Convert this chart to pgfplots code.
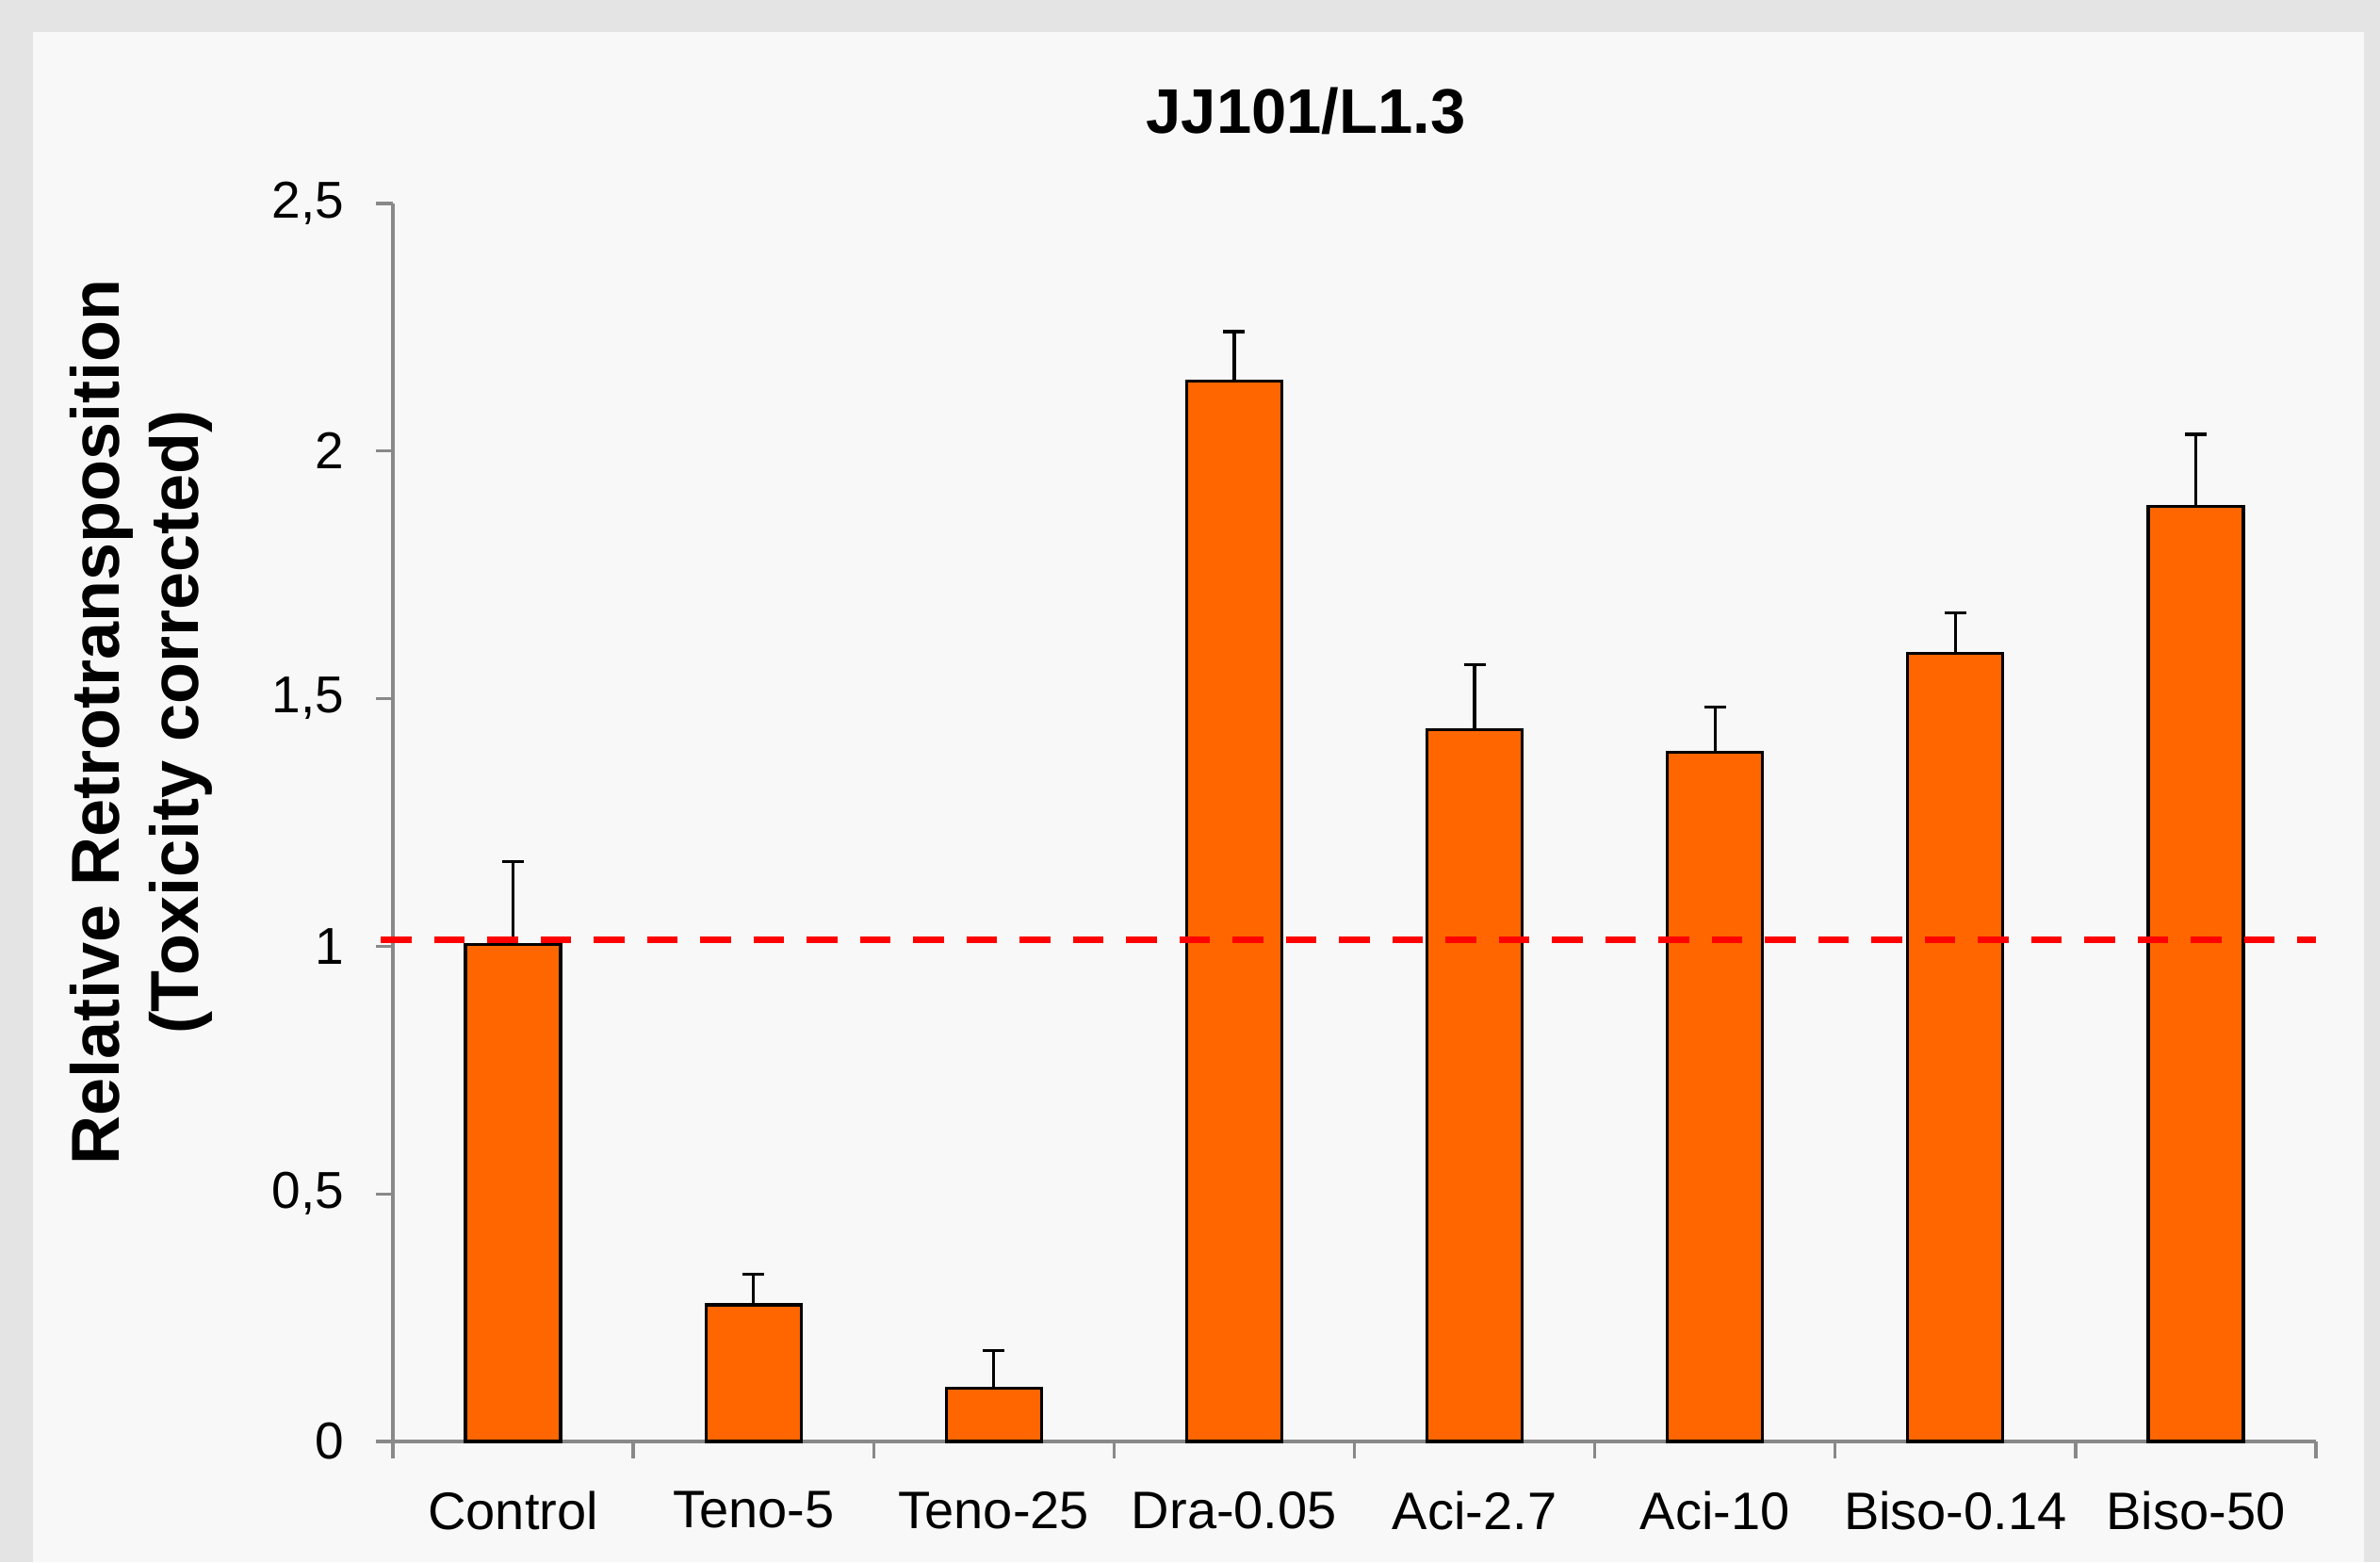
\documentclass[border=0pt]{standalone}
\usepackage{fontspec}
\setmainfont{Liberation Sans}
\usepackage{pgfplots}
\pgfplotsset{compat=1.18}
\definecolor{barorange}{RGB}{255,102,0}
\definecolor{axgray}{RGB}{137,137,137}
\definecolor{outerbg}{RGB}{228,228,228}
\definecolor{panelbg}{RGB}{248,248,248}
\begin{document}
\begin{tikzpicture}
\fill[outerbg] (-83.4pt,-25.6pt) rectangle (421.8pt,306pt);
\fill[panelbg] (-76.4pt,-25.6pt) rectangle (418.4pt,299.2pt);
\begin{axis}[
  at={(0pt,0pt)}, anchor=south west,
  scale only axis, width=408.2pt, height=262.8pt,
  xmin=-0.5, xmax=7.5, ymin=0, ymax=2.5,
  clip=false,
  axis x line=bottom, axis y line=left,
  axis line style={-, draw=axgray, line width=0.67pt},
  tick style={draw=axgray, line width=0.67pt},
  tick align=outside, major tick length=3.5pt,
  xtick={-0.5,0.5,...,7.5}, xticklabels={},
  extra x ticks={0,1,2,3,4,5,6,7},
  extra x tick labels={Control,Teno-5,Teno-25,Dra-0.05,Aci-2.7,Aci-10,Biso-0.14,Biso-50},
  extra x tick style={tick style={draw=none}},
  xticklabel style={font=\fontsize{11.2}{13}\selectfont, anchor=north, inner sep=0pt, yshift=-6.9pt},
  ytick={0,0.5,1,1.5,2,2.5},
  yticklabels={0,{0,5},1,{1,5},2,{2,5}},
  yticklabel style={font=\fontsize{11}{13}\selectfont, anchor=east, inner sep=0pt, xshift=-6.7pt},
  /pgf/number format/assume math mode=true,
  every axis title shift=0pt,
  title={JJ101/L1.3},
  title style={font=\fontsize{13.4}{15}\selectfont\bfseries, at={(axis description cs:0.4748,1)}, anchor=base, yshift=14.8pt, inner sep=0pt},
  ylabel={Relative Retrotransposition\\(Toxicity corrected)},
  ylabel style={font=\fontsize{14.4}{16.8}\selectfont\bfseries, align=center, at={(axis description cs:-0.0936,0.581)}, anchor=south, inner sep=0pt, rotate=0},
]
\addplot[ybar, bar width=0.396, fill=barorange, draw=black, line width=0.65pt,
  error bars/.cd, y dir=plus, y explicit,
  error bar style={line width=0.65pt, black},
  error mark options={rotate=90, mark size=2.3pt, line width=0.65pt, black}]
  coordinates {
  (0,1.003) +- (0,0.168)
  (1,0.276) +- (0,0.061)
  (2,0.108) +- (0,0.075)
  (3,2.142) +- (0,0.099)
  (4,1.438) +- (0,0.130)
  (5,1.392) +- (0,0.091)
  (6,1.591) +- (0,0.083)
  (7,1.889) +- (0,0.145)
  };
\addplot[red, line width=1.4pt, dash pattern=on 6.5pt off 4.8pt] coordinates {(-0.55,1.014) (7.5,1.014)};
\end{axis}
\pgfresetboundingbox
\path[use as bounding box] (-83.4pt,-25.6pt) rectangle (421.8pt,306pt);
\end{tikzpicture}
\end{document}
